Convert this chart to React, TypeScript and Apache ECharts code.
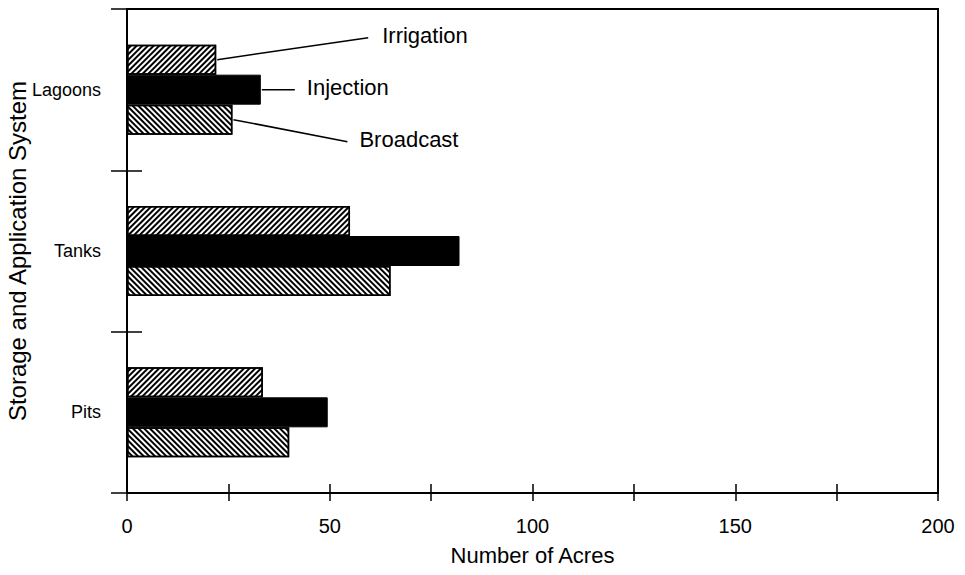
import React, { useEffect, useRef } from "react";
import * as echarts from "echarts";

const categories = ["Lagoons", "Tanks", "Pits"];
const seriesNames = ["Irrigation", "Injection", "Broadcast"];
const irrigation = [22, 55, 33.5];
const injection = [33, 82, 49.5];
const broadcast = [26, 65, 40];
const xTicks = [0, 50, 100, 150, 200];

const FONT = "'Liberation Sans', Arial, Helvetica, sans-serif";
const BAR_W = 30;

// leader-line geometry for the annotations (pixel offsets from the bar ends)
const annot = [
  { dx: 151, dy: -22, gap: 14 },
  { dx: 33, dy: 0, gap: 12 },
  { dx: 114, dy: 22, gap: 12 },
];

export default function App() {
  const ref = useRef<HTMLDivElement>(null);
  useEffect(() => {
    document.body.style.margin = "0";
    if (!ref.current) return;
    const chart = echarts.init(ref.current, null, { renderer: "svg" });
    const hatch = (rot: number) => ({
      symbol: "rect",
      symbolSize: 1,
      dashArrayX: [1, 0],
      dashArrayY: [1.4, 1.5],
      rotation: rot,
      color: "#000",
      backgroundColor: "#fff",
    });
    const values = [irrigation, injection, broadcast];
    const styles = [
      { color: "#fff", borderColor: "#000", borderWidth: 1.5, decal: hatch(-Math.PI / 4) },
      { color: "#000", borderColor: "#000", borderWidth: 1 },
      { color: "#fff", borderColor: "#000", borderWidth: 1.5, decal: hatch(Math.PI / 4) },
    ];
    const yBase = {
      type: "category" as const,
      data: categories,
      inverse: true,
      boundaryGap: true,
    };
    chart.setOption({
      animation: false,
      backgroundColor: "#fff",
      grid: {
        left: 127,
        right: 27,
        top: 9,
        bottom: 82,
        containLabel: false,
        outerBoundsMode: "none",
        show: true,
        borderColor: "#000",
        borderWidth: 2,
        backgroundColor: "transparent",
      },
      xAxis: [
        {
          type: "value",
          min: 0,
          max: 200,
          interval: 25,
          position: "bottom",
          axisLine: { show: true, lineStyle: { color: "#000", width: 2 } },
          axisTick: { show: true, length: 8, inside: false, lineStyle: { color: "#000", width: 1.5 } },
          splitLine: { show: false },
          axisLabel: {
            margin: 23,
            color: "#000",
            fontFamily: FONT,
            fontSize: 20,
            formatter: (v: number) => (xTicks.includes(v) ? String(v) : ""),
          },
          name: "Number of Acres",
          nameLocation: "middle",
          nameGap: 51,
          nameMoveOverlap: false,
          nameTextStyle: { color: "#000", fontFamily: FONT, fontSize: 22 },
        },
        {
          type: "value",
          min: 0,
          max: 200,
          interval: 25,
          position: "bottom",
          axisLine: { show: false },
          axisTick: { show: true, length: 9, inside: true, lineStyle: { color: "#000", width: 1.5 } },
          splitLine: { show: false },
          axisLabel: { show: false },
        },
      ],
      yAxis: [
        {
          ...yBase,
          position: "left",
          axisLine: { show: true, lineStyle: { color: "#000", width: 2 } },
          axisTick: { show: true, length: 16, inside: false, lineStyle: { color: "#000", width: 1.5 } },
          axisLabel: { margin: 26, color: "#000", fontFamily: FONT, fontSize: 18 },
          name: "Storage and Application System",
          nameLocation: "middle",
          nameRotate: 90,
          nameGap: 98,
          nameMoveOverlap: false,
          nameTextStyle: { color: "#000", fontFamily: FONT, fontSize: 24 },
        },
        {
          ...yBase,
          position: "left",
          axisLine: { show: false },
          axisTick: { show: true, length: 15, inside: true, lineStyle: { color: "#000", width: 1.5 } },
          axisLabel: { show: false },
        },
      ],
      series: seriesNames.map((name, i) => ({
        name,
        type: "bar",
        xAxisIndex: 0,
        yAxisIndex: 0,
        data: values[i],
        barWidth: BAR_W,
        barGap: "0%",
        itemStyle: styles[i],
      })),
    });

    // annotations on the first category's bars, positioned via the chart's scales
    const cy = chart.convertToPixel({ yAxisIndex: 0 }, categories[0]) as number;
    const graphics: any[] = [];
    seriesNames.forEach((name, i) => {
      const x0 = (chart.convertToPixel({ xAxisIndex: 0 }, values[i][0]) as number) + 1;
      const y0 = cy + (i - 1) * BAR_W;
      const a = annot[i];
      const x1 = x0 + a.dx;
      const y1 = y0 + a.dy;
      graphics.push({
        type: "line",
        shape: { x1: x0, y1: y0, x2: x1, y2: y1 },
        style: { stroke: "#000", lineWidth: 1.5 },
        z: 10,
      });
      graphics.push({
        type: "text",
        x: x1 + a.gap,
        y: y1 - 2,
        style: {
          text: name,
          fill: "#000",
          font: `22px ${FONT}`,
          verticalAlign: "middle",
          align: "left",
        },
        z: 10,
      });
    });
    chart.setOption({ graphic: graphics });

    return () => chart.dispose();
  }, []);
  return <div ref={ref} style={{ width: 965, height: 575 }} />;
}
